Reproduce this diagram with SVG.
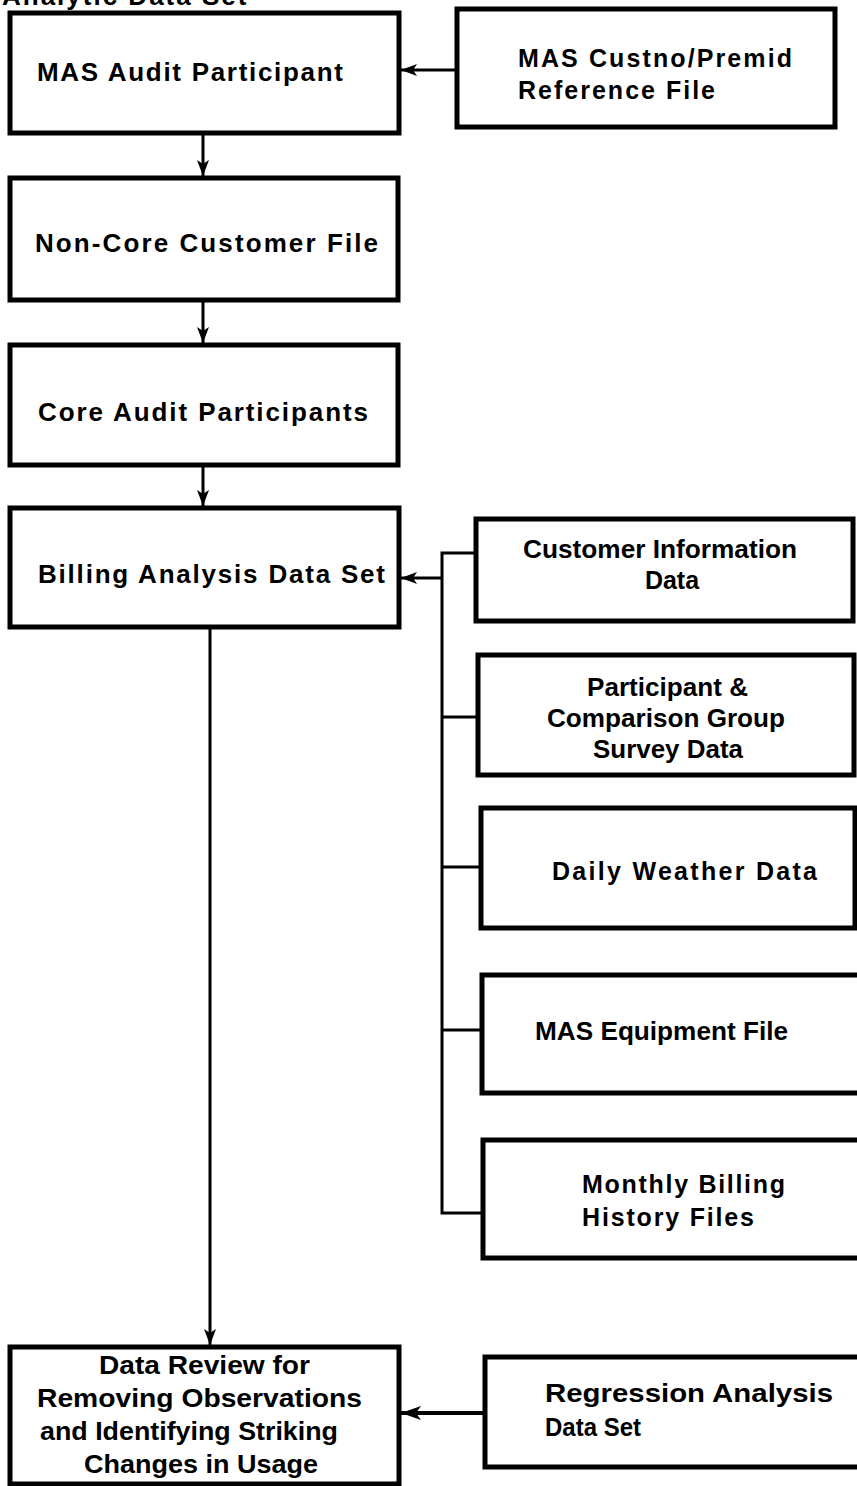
<svg xmlns="http://www.w3.org/2000/svg" width="857" height="1486" viewBox="0 0 857 1486">
  <style>
    .box { fill: #fff; stroke: #000; stroke-width: 5; }
    .lbl { font-family: "Liberation Sans", Arial, Helvetica, sans-serif; font-weight: bold; font-size: 26px; fill: #000; }
    .tight { font-size: 25px; }
    .cond { font-family: "Liberation Sans Narrow", "Liberation Sans", Arial, sans-serif; font-weight: bold; font-size: 26px; fill: #000; }
    .wire { fill: none; stroke: #000; stroke-width: 3; }
    .thick { stroke-width: 4; }
  </style>
  <defs>
    <marker id="arrow" markerUnits="userSpaceOnUse" markerWidth="18" markerHeight="14" refX="16" refY="6" orient="auto">
      <path d="M0,0 L16,6 L0,12 L4,6 z" fill="#000"/>
    </marker>
    <marker id="arrowBig" markerUnits="userSpaceOnUse" markerWidth="22" markerHeight="16" refX="20" refY="7" orient="auto">
      <path d="M0,0 L20,7 L0,14 L5,7 z" fill="#000"/>
    </marker>
  </defs>
  <rect width="857" height="1486" fill="#fff"/>

  <!-- heading, cropped at the top edge -->
  <text class="lbl" x="2" y="5" font-size="28" letter-spacing="2">Analytic Data Set</text>

  <g id="connectors">
    <line class="wire" x1="457" y1="70" x2="401" y2="70" marker-end="url(#arrow)"/>
    <line class="wire" x1="203" y1="133" x2="203" y2="176" marker-end="url(#arrow)"/>
    <line class="wire" x1="203" y1="300" x2="203" y2="343" marker-end="url(#arrow)"/>
    <line class="wire" x1="203" y1="465" x2="203" y2="506" marker-end="url(#arrow)"/>
    <!-- source bus feeding the billing data set -->
    <polyline class="wire" points="476,553 442,553 442,1213 483,1213"/>
    <line class="wire" x1="442" y1="717" x2="478" y2="717"/>
    <line class="wire" x1="442" y1="867" x2="481" y2="867"/>
    <line class="wire" x1="442" y1="1030" x2="482" y2="1030"/>
    <line class="wire" x1="442" y1="578" x2="401" y2="578" marker-end="url(#arrow)"/>
    <line class="wire" x1="210" y1="627" x2="210" y2="1345" marker-end="url(#arrow)"/>
    <line class="wire thick" x1="485" y1="1413" x2="401" y2="1413" marker-end="url(#arrowBig)"/>
  </g>

  <g id="mas-audit">
    <rect class="box" x="10" y="13" width="389" height="120"/>
    <text class="lbl" x="37" y="81" textLength="306">MAS Audit Participant</text>
  </g>
  <g id="custno-ref">
    <rect class="box" x="457" y="9" width="378" height="118"/>
    <text class="lbl tight" x="518" y="67" textLength="274">MAS Custno/Premid</text>
    <text class="lbl tight" x="518" y="99" textLength="197">Reference File</text>
  </g>
  <g id="non-core">
    <rect class="box" x="10" y="178" width="388" height="122"/>
    <text class="lbl" x="35" y="252" textLength="343">Non-Core Customer File</text>
  </g>
  <g id="core-audit">
    <rect class="box" x="10" y="345" width="388" height="120"/>
    <text class="lbl" x="38" y="421" textLength="330">Core Audit Participants</text>
  </g>
  <g id="billing">
    <rect class="box" x="10" y="508" width="389" height="119"/>
    <text class="lbl" x="38" y="583" textLength="347">Billing Analysis Data Set</text>
  </g>
  <g id="customer-info">
    <rect class="box" x="476" y="519" width="377" height="102"/>
    <text class="lbl tight" x="523" y="558" textLength="274" lengthAdjust="spacingAndGlyphs">Customer Information</text>
    <text class="lbl tight" x="672" y="589" text-anchor="middle">Data</text>
  </g>
  <g id="survey">
    <rect class="box" x="478" y="655" width="376" height="120"/>
    <text class="lbl tight" x="587" y="696" textLength="161" lengthAdjust="spacingAndGlyphs">Participant &amp;</text>
    <text class="lbl tight" x="547" y="727" textLength="238" lengthAdjust="spacingAndGlyphs">Comparison Group</text>
    <text class="lbl tight" x="593" y="758" textLength="150" lengthAdjust="spacingAndGlyphs">Survey Data</text>
  </g>
  <g id="weather">
    <rect class="box" x="481" y="808" width="374" height="120"/>
    <text class="lbl tight" x="552" y="880" textLength="265">Daily Weather Data</text>
  </g>
  <g id="equipment">
    <rect class="box" x="482" y="975" width="380" height="118"/>
    <text class="lbl tight" x="535" y="1040" textLength="253" lengthAdjust="spacingAndGlyphs">MAS Equipment File</text>
  </g>
  <g id="monthly-billing">
    <rect class="box" x="483" y="1140" width="380" height="118"/>
    <text class="lbl tight" x="582" y="1193" textLength="203">Monthly Billing</text>
    <text class="lbl tight" x="582" y="1226" textLength="172">History Files</text>
  </g>
  <g id="data-review">
    <rect class="box" x="10" y="1347" width="389" height="137"/>
    <text class="cond" x="99" y="1374" textLength="211" lengthAdjust="spacingAndGlyphs">Data Review for</text>
    <text class="cond" x="37" y="1407" textLength="325" lengthAdjust="spacingAndGlyphs">Removing Observations</text>
    <text class="cond" x="40" y="1440" textLength="298" lengthAdjust="spacingAndGlyphs">and Identifying Striking</text>
    <text class="cond" x="84" y="1473" textLength="234" lengthAdjust="spacingAndGlyphs">Changes in Usage</text>
  </g>
  <g id="regression">
    <rect class="box" x="485" y="1357" width="380" height="110"/>
    <text class="cond" x="545" y="1402" textLength="288" lengthAdjust="spacingAndGlyphs">Regression Analysis</text>
    <text class="cond" x="545" y="1436" textLength="96" lengthAdjust="spacingAndGlyphs">Data Set</text>
  </g>
</svg>
